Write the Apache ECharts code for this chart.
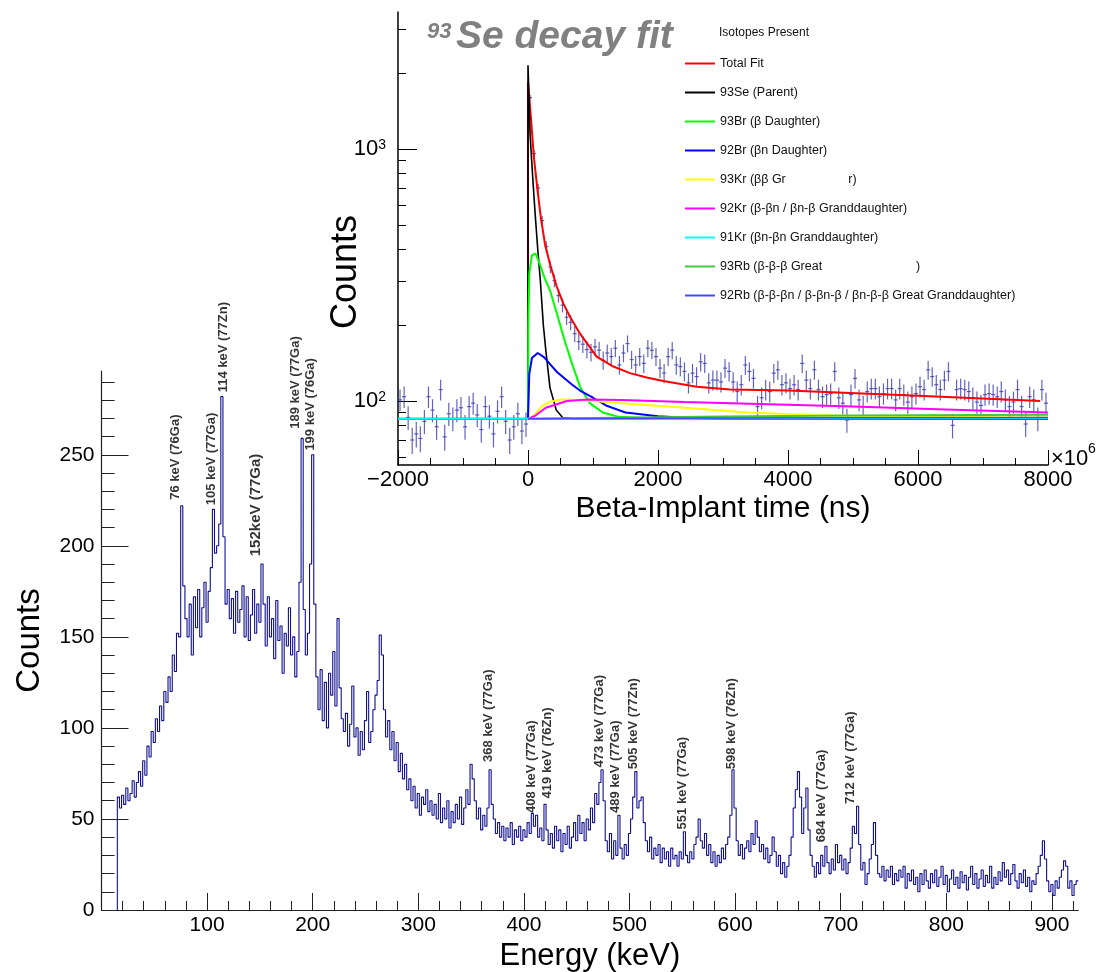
<!DOCTYPE html>
<html>
<head>
<meta charset="utf-8">
<title>Gamma spectrum with 93Se decay fit</title>
<script src="https://cdn.jsdelivr.net/npm/echarts@6.0.0/dist/echarts.min.js"></script>
<style>
  html, body { margin: 0; padding: 0; background: #fff; }
  #chart { width: 1103px; height: 972px; }
</style>
</head>
<body>
<div id="chart"></div>
<script>
// gamma spectrum, 2 keV bins from 15 keV
const specStart = 15
const specBin = 2
const specCounts = [
  62, 56, 63, 58, 67, 60, 64, 71, 62, 70,
  76, 68, 82, 74, 90, 84, 98, 92, 105, 98,
  112, 104, 120, 114, 128, 120, 140, 131, 152, 150,
  222, 178, 160, 150, 168, 140, 172, 155, 176, 150,
  166, 180, 158, 175, 188, 220, 196, 200, 212, 282,
  205, 168, 176, 160, 171, 152, 175, 158, 165, 178,
  150, 172, 148, 162, 176, 152, 168, 158, 190, 168,
  145, 172, 150, 160, 138, 170, 148, 156, 130, 152,
  145, 166, 140, 150, 128, 142, 180, 259, 165, 140,
  152, 190, 250, 168, 128, 110, 132, 104, 125, 100,
  130, 118, 142, 112, 160, 122, 105, 98, 108, 90,
  102, 123, 95, 100, 85, 98, 88, 104, 120, 92,
  98, 110, 118, 126, 151, 140, 110, 95, 104, 88,
  98, 82, 92, 76, 86, 72, 80, 66, 72, 60,
  68, 56, 64, 52, 62, 58, 66, 54, 60, 52,
  58, 50, 64, 48, 56, 50, 60, 45, 54, 48,
  58, 50, 62, 47, 56, 66, 58, 80, 72, 60,
  50, 56, 44, 52, 46, 56, 77, 58, 50, 42,
  48, 40, 46, 38, 45, 40, 48, 36, 44, 40,
  46, 38, 44, 40, 48, 42, 53, 46, 52, 40,
  45, 38, 58, 44, 36, 42, 34, 46, 38, 44,
  32, 42, 36, 46, 34, 40, 48, 38, 52, 42,
  48, 38, 50, 44, 56, 48, 64, 58, 70, 77,
  60, 38, 32, 42, 28, 38, 30, 52, 34, 28,
  36, 30, 42, 50, 62, 76, 56, 60, 62, 48,
  38, 32, 40, 28, 34, 30, 36, 26, 34, 28,
  32, 24, 34, 28, 30, 24, 32, 28, 43, 30,
  26, 32, 28, 36, 40, 50, 38, 34, 42, 30,
  36, 26, 32, 24, 30, 26, 34, 28, 36, 40,
  52, 77, 56, 38, 30, 36, 28, 34, 38, 32,
  42, 36, 49, 40, 32, 36, 28, 34, 26, 30,
  40, 32, 24, 30, 20, 26, 18, 24, 30, 40,
  56, 66, 76, 62, 42, 56, 67, 44, 30, 24,
  18, 26, 20, 30, 24, 35, 26, 20, 28, 22,
  36, 26, 30, 22, 28, 20, 26, 34, 46, 42,
  57, 36, 22, 26, 14, 20, 28, 36, 48, 30,
  20, 18, 24, 16, 22, 18, 24, 14, 20, 16,
  22, 18, 24, 12, 20, 16, 22, 14, 18, 10,
  20, 14, 22, 16, 12, 20, 15, 22, 13, 18,
  24, 14, 19, 10, 17, 22, 14, 18, 12, 21,
  15, 19, 11, 18, 24, 14, 20, 12, 17, 22,
  13, 19, 15, 24, 12, 18, 14, 21, 16, 26,
  18, 22, 14, 20, 25, 16, 12, 20, 15, 22,
  13, 18, 10, 16, 14, 20, 24, 30, 38, 28,
  16, 10, 14, 8, 16, 12, 18, 22, 27, 24,
  12, 16, 8, 14, 16
]

// peak annotations: text, energy where the text stands, counts at its foot
const peakNames = ['76 keV (76Ga)', '105 keV (77Ga)', '114 keV (77Zn)', '152keV (77Ga)',
  '189 keV (77Ga)', '199 keV (76Ga)', '368 keV (77Ga)', '408 keV (77Ga)', '419 keV (76Zn)',
  '473 keV (77Ga)', '489 keV (77Ga)', '505 keV (77Zn)', '551 keV (77Ga)', '598 keV (76Zn)',
  '684 keV (77Ga)', '712 keV (77Ga)']
const peakLabelE = [76, 110, 122, 153, 190, 204, 373, 413, 428, 478, 493, 510, 556, 603, 688, 715]
const peakLabelCounts = [225, 222, 284, 194, 264, 252, 81, 53, 61, 78, 53, 77, 44, 77, 37, 58]

const energyTicks = [100, 200, 300, 400, 500, 600, 700, 800, 900]
const countTicks = [0, 50, 100, 150, 200, 250]

// beta-implant time distribution, 62.5 ns bins from -2000 ns
const decayStart = -2000
const decayBin = 62.5
const decayCounts = [
  101, 104, 86, 70, 74, 71, 83, 104, 92, 79,
  111, 72, 89, 85, 92, 94, 79, 95, 98, 88,
  77, 95, 87, 74, 91, 104, 83, 70, 79, 89,
  76, 81,
  1600, 960, 700, 520, 410, 340, 300, 262, 240, 215,
  205, 185, 172, 168, 160, 156,
  164, 159, 145, 155, 150, 162, 139, 155, 169, 146,
  139, 150, 141, 162, 159, 150, 135, 129, 150, 159,
  139, 137, 131, 118, 129, 125,
  143, 141, 118, 121, 121, 119, 135, 131, 119, 109,
  116, 139, 131, 123, 95, 103, 111, 109, 129, 133,
  116, 118, 112, 116, 111, 141, 121, 112, 133, 111,
  104, 106, 107, 131, 103, 98, 84, 106, 123, 101,
  95, 109, 112, 112, 104, 107, 112, 112, 101, 112,
  106, 99, 104, 107, 114, 111, 133, 125, 116, 111,
  121, 131, 80, 111, 112, 111, 109, 103, 99, 96,
  106, 107, 106, 104, 109, 101, 95, 99, 111, 95,
  81, 104, 101, 85, 111, 98
]

// fit curves: [time ns, counts]
const fitTotal = [[-2000, 85], [0, 85], [0, 1850], [46, 1320], [92, 920], [143, 700], [195, 540],
  [261, 420], [338, 350], [441, 285], [543, 244], [646, 216], [800, 185], [1056, 150], [1313, 137],
  [1569, 129], [1826, 124], [2082, 120], [2595, 114], [3108, 111], [4000, 110], [6000, 105], [7880, 100]]
const fitSe93 = [[-2000, 85], [0, 85], [0, 2150], [31, 1160], [56, 904], [82, 708], [113, 539],
  [150, 400], [190, 300], [236, 200], [274, 159], [338, 113], [435, 92], [532, 86], [700, 85], [8000, 85]]
const fitBr93 = [[0, 85], [5, 200], [20, 320], [60, 378], [115, 385], [180, 350], [250, 310],
  [338, 275], [450, 220], [560, 175], [680, 140], [800, 114], [950, 98], [1150, 90], [1400, 86.5],
  [2000, 85], [8000, 85]]
const fitBr92 = [[0, 85], [20, 128], [60, 148], [150, 155], [250, 149], [338, 140], [450, 130],
  [560, 123], [680, 116], [800, 110], [1000, 103], [1200, 96], [1500, 90], [2000, 87], [2500, 85.6],
  [3000, 85], [8000, 85]]
const fitKr93 = [[0, 85], [100, 88], [209, 95], [338, 99.4], [532, 101.5], [792, 101], [1440, 98],
  [2411, 94], [3383, 90], [4354, 88], [5651, 86.6], [8000, 86]]
const fitKr92 = [[0, 85], [100, 87], [274, 94], [597, 100], [922, 101.3], [1440, 101], [2411, 99],
  [3707, 97], [5003, 95], [6298, 92.8], [8000, 90]]
const fitKr91 = [[-2000, 85], [0, 85], [8000, 85.3]]
const fitRb93 = [[0, 85], [1000, 85.6], [3000, 86.8], [5000, 87.6], [8000, 88.2]]
const fitRb92 = [[0, 85], [2000, 85.4], [5000, 85.8], [8000, 86]]

const fitNames = ['Total Fit', '93Se (Parent)', '93Br (\u03b2 Daughter)', '92Br (\u03b2n Daughter)',
  '93Kr (\u03b2\u03b2 Gr                  r)', '92Kr (\u03b2-\u03b2n / \u03b2n-\u03b2 Granddaughter)',
  '91Kr (\u03b2n-\u03b2n Granddaughter)', '93Rb (\u03b2-\u03b2-\u03b2 Great                           )',
  '92Rb (\u03b2-\u03b2-\u03b2n / \u03b2-\u03b2n-\u03b2 / \u03b2n-\u03b2-\u03b2 Great Granddaughter)']
const fitCurves = [fitTotal, fitSe93, fitBr93, fitBr92, fitKr93, fitKr92, fitKr91, fitRb93, fitRb92]

const decayLogTicks = [100, 1000]
const decayLogMinor = [60, 70, 80, 90, 200, 300, 400, 500, 600, 700, 800, 900, 2000, 3000]

// ---- build ----
const font = "'Liberation Sans', Arial, Helvetica, sans-serif"
const fitColors = ['#ff0000', '#000000', '#00ff00', '#0000ff', '#ffff00', '#ff00ff', '#00ffff', '#44c444', '#4646ff']
const fitWidths = [2, 1.6, 2, 2, 2, 2, 2, 2, 1.5]

const specLine = [[specStart, 0]]
specCounts.forEach((c, i) => specLine.push([specStart + specBin * i, c]))
specLine.push([specStart + specBin * specCounts.length, specCounts[specCounts.length - 1]])

const energyMinor = []
for (let v = 20; v < 925; v += 20) if (v % 100) energyMinor.push(v)
const countMinor = []
for (let v = 10; v < 296; v += 10) if (v % 50) countMinor.push(v)

const peakData = peakNames.map((name, i) => {
  const item = { value: [peakLabelE[i], peakLabelCounts[i], name] }
  if (name.indexOf('152') === 0) item.label = { fontSize: 15 }
  return item
})

const decayPoints = decayCounts.map((c, i) => [decayStart + decayBin * (i + 0.5), c])

const chart = echarts.init(document.getElementById('chart'), null, { renderer: 'canvas' })

const series = [
  {
    name: 'spectrum',
    type: 'line',
    xAxisIndex: 0,
    yAxisIndex: 0,
    step: 'end',
    data: specLine,
    symbol: 'none',
    lineStyle: { color: '#10108f', width: 1.1 },
    z: 2
  },
  {
    name: 'peaks',
    type: 'scatter',
    xAxisIndex: 0,
    yAxisIndex: 0,
    data: peakData,
    symbolSize: 1,
    itemStyle: { color: 'rgba(0,0,0,0)' },
    label: {
      show: true,
      position: 'top',
      distance: 0,
      rotate: 90,
      align: 'left',
      verticalAlign: 'bottom',
      fontFamily: font,
      fontWeight: 'bold',
      fontSize: 13,
      color: '#000',
      formatter: p => p.value[2]
    },
    z: 3
  },
  {
    name: 'data',
    type: 'custom',
    xAxisIndex: 2,
    yAxisIndex: 2,
    data: decayPoints,
    encode: { x: 0, y: 1 },
    renderItem(params, api) {
      const t = api.value(0)
      const c = api.value(1)
      const e = Math.sqrt(c)
      const top = api.coord([t, c + e])
      const bot = api.coord([t, c - e])
      const l = api.coord([t - decayBin / 2, c])
      const r = api.coord([t + decayBin / 2, c])
      const style = { stroke: 'rgba(60,60,175,0.8)', lineWidth: 1.2 }
      return {
        type: 'group',
        children: [
          { type: 'line', shape: { x1: top[0], y1: top[1], x2: bot[0], y2: bot[1] }, style },
          { type: 'line', shape: { x1: l[0], y1: l[1], x2: r[0], y2: r[1] }, style }
        ]
      }
    },
    z: 3
  }
]

fitCurves.forEach((curve, k) => {
  series.push({
    name: fitNames[k],
    type: 'line',
    xAxisIndex: 2,
    yAxisIndex: 2,
    data: curve,
    symbol: 'none',
    lineStyle: { color: fitColors[k], width: fitWidths[k] },
    itemStyle: { color: fitColors[k] },
    z: 4
  })
})

chart.setOption({
  animation: false,
  backgroundColor: '#fff',
  textStyle: { fontFamily: font },
  grid: [
    { left: 101.5, right: 24.7, top: 371, bottom: 62, outerBoundsMode: 'none', containLabel: false },
    { left: 398, right: 55, top: 12, bottom: 507, outerBoundsMode: 'none', containLabel: false }
  ],
  legend: {
    data: fitNames,
    orient: 'vertical',
    left: 685,
    top: 57,
    icon: 'rect',
    itemWidth: 30,
    itemHeight: 2,
    itemGap: 16,
    padding: 0,
    selectedMode: false,
    textStyle: { fontFamily: font, fontSize: 12.5, color: '#111' }
  },
  xAxis: [
    {
      type: 'value', gridIndex: 0, position: 'bottom', min: 0, max: 925,
      axisLine: { show: true, onZero: false, lineStyle: { color: '#222', width: 1.2 } },
      axisTick: { show: true, inside: true, length: 17, customValues: energyTicks, lineStyle: { color: '#222' } },
      axisLabel: { customValues: energyTicks, fontSize: 21, color: '#000', margin: 5 },
      splitLine: { show: false },
      name: 'Energy (keV)', nameLocation: 'middle', nameGap: 27,
      nameTextStyle: { fontSize: 31, color: '#000' }
    },
    {
      type: 'value', gridIndex: 0, position: 'bottom', min: 0, max: 925,
      axisLine: { show: false, onZero: false },
      axisTick: { show: true, inside: true, length: 9, customValues: energyMinor, lineStyle: { color: '#222' } },
      axisLabel: { show: false },
      splitLine: { show: false }
    },
    {
      type: 'value', gridIndex: 1, position: 'bottom', min: -2000, max: 8000, interval: 2000,
      axisLine: { show: true, onZero: false, lineStyle: { color: '#000', width: 1.5 } },
      axisTick: { show: true, inside: true, length: 15, lineStyle: { color: '#000' } },
      minorTick: { show: true, splitNumber: 4, length: 7, lineStyle: { color: '#000' } },
      axisLabel: { fontSize: 22, color: '#000', margin: 4, formatter: v => String(v).replace('-', '\u2212') },
      splitLine: { show: false },
      minorSplitLine: { show: false },
      name: 'Beta-Implant time (ns)', nameLocation: 'middle', nameGap: 29,
      nameTextStyle: { fontSize: 30, color: '#000' }
    }
  ],
  yAxis: [
    {
      type: 'value', gridIndex: 0, position: 'left', min: 0, max: 296,
      axisLine: { show: true, onZero: false, lineStyle: { color: '#222', width: 1.2 } },
      axisTick: { show: true, inside: true, length: 27, customValues: countTicks, lineStyle: { color: '#222' } },
      axisLabel: { customValues: countTicks, fontSize: 21, color: '#000', margin: 7 },
      splitLine: { show: false },
      name: 'Counts', nameLocation: 'middle', nameGap: 55,
      nameTextStyle: { fontSize: 33, color: '#000' }
    },
    {
      type: 'value', gridIndex: 0, position: 'left', min: 0, max: 296,
      axisLine: { show: false, onZero: false },
      axisTick: { show: true, inside: true, length: 13, customValues: countMinor, lineStyle: { color: '#222' } },
      axisLabel: { show: false },
      splitLine: { show: false }
    },
    {
      type: 'log', logBase: 10, gridIndex: 1, position: 'left', min: 55.7, max: 3500,
      axisLine: { show: true, onZero: false, lineStyle: { color: '#000', width: 1.5 } },
      axisTick: { show: true, inside: true, length: 19, customValues: decayLogTicks, lineStyle: { color: '#000' } },
      axisLabel: {
        customValues: decayLogTicks, margin: 12, color: '#000',
        formatter: v => '{b|10}{s|' + Math.round(Math.log10(v)) + '}',
        rich: {
          b: { fontSize: 22, color: '#000', verticalAlign: 'bottom', fontFamily: font },
          s: { fontSize: 14, color: '#000', verticalAlign: 'top', fontFamily: font }
        }
      },
      splitLine: { show: false },
      minorTick: { show: false }
    },
    {
      type: 'log', logBase: 10, gridIndex: 1, position: 'left', min: 55.7, max: 3500,
      axisLine: { show: false, onZero: false },
      axisTick: { show: true, inside: true, length: 8, customValues: decayLogMinor, lineStyle: { color: '#000' } },
      axisLabel: { show: false },
      splitLine: { show: false }
    }
  ],
  graphic: [
    {
      type: 'text', x: 427, y: 21,
      style: { text: '93', font: 'italic bold 22px ' + font, fill: '#808080', textAlign: 'left', textVerticalAlign: 'top', align: 'left', verticalAlign: 'top' }
    },
    {
      type: 'text', x: 456, y: 18,
      style: { text: 'Se decay fit', font: 'italic bold 39px ' + font, fill: '#808080', textAlign: 'left', textVerticalAlign: 'top', align: 'left', verticalAlign: 'top' }
    },
    {
      type: 'text', x: 719, y: 33,
      style: { text: 'Isotopes Present', font: '12px ' + font, fill: '#111', textAlign: 'left', textVerticalAlign: 'middle', align: 'left', verticalAlign: 'middle' }
    },
    {
      type: 'text', x: 346, y: 272, rotation: Math.PI / 2,
      style: { text: 'Counts', font: '36px ' + font, fill: '#000', textAlign: 'center', textVerticalAlign: 'middle', align: 'center', verticalAlign: 'middle' }
    },
    {
      type: 'text', x: 1051, y: 459,
      style: { text: '\u00d710', font: '22px ' + font, fill: '#000', textAlign: 'left', textVerticalAlign: 'middle', align: 'left', verticalAlign: 'middle' }
    },
    {
      type: 'text', x: 1088, y: 449,
      style: { text: '6', font: '14px ' + font, fill: '#000', textAlign: 'left', textVerticalAlign: 'middle', align: 'left', verticalAlign: 'middle' }
    }
  ],
  series: series
})
</script>
</body>
</html>
